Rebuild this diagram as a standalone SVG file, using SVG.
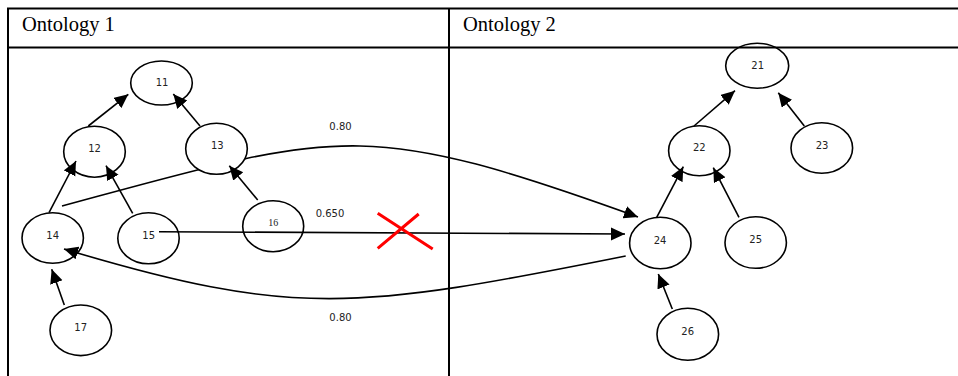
<svg xmlns="http://www.w3.org/2000/svg" width="958" height="376" viewBox="0 0 958 376">
<style>
.frame{stroke:#000;stroke-width:2;fill:none}
.head{font-family:"Liberation Serif","Times New Roman",serif;font-size:20.5px;fill:#000}
.node ellipse{fill:none;stroke:#000;stroke-width:1.6}
.node text{font-family:"DejaVu Sans",Verdana,sans-serif;font-size:10px;fill:#222;text-anchor:middle}
.node text.serif{font-family:"Liberation Serif","Times New Roman",serif;font-size:10px}
.edge{fill:none;stroke:#000;stroke-width:1.6}
.arr{marker-end:url(#ah)}
.lbl{font-family:"DejaVu Sans",Verdana,sans-serif;font-size:10px;fill:#222;text-anchor:middle}
.cross{stroke:#f00;stroke-width:3;fill:none}
</style>
<defs>
<marker id="ah" markerUnits="userSpaceOnUse" markerWidth="16" markerHeight="14" refX="14" refY="6.5" orient="auto">
<path d="M0,0 L14,6.5 L0,13 z" fill="#000"/>
</marker>
<mask id="behind13" maskUnits="userSpaceOnUse" x="0" y="0" width="958" height="376">
<rect width="958" height="376" fill="#fff"/>
<ellipse cx="216.5" cy="148.8" rx="30.8" ry="25.5" fill="#000"/>
</mask>
</defs>
<rect width="958" height="376" fill="#fff"/>
<g id="table">
<path class="frame" d="M8,376 V8.5 H958 M8,47.5 H958 M449,8 V376"/>
<text class="head" x="22" y="31">Ontology 1</text>
<text class="head" x="463" y="31">Ontology 2</text>
</g>
<g id="n11" class="node"><ellipse cx="161.5" cy="83" rx="30.8" ry="22"/><text x="162" y="85.5">11</text></g>
<g id="n12" class="node"><ellipse cx="94.5" cy="151.7" rx="30.8" ry="25.5"/><text x="94.5" y="152">12</text></g>
<g id="n13" class="node"><ellipse cx="216.5" cy="148.8" rx="30.8" ry="25.5"/><text x="217.3" y="148.7">13</text></g>
<g id="n14" class="node"><ellipse cx="52.7" cy="238" rx="30.7" ry="25.3"/><text x="52.7" y="239.3">14</text></g>
<g id="n15" class="node"><ellipse cx="148.5" cy="238.3" rx="30.7" ry="25.5"/><text x="148.7" y="239.3">15</text></g>
<g id="n16" class="node"><ellipse cx="273.2" cy="226.2" rx="30.5" ry="25.5"/><text class="serif" x="273.3" y="225.7">16</text></g>
<g id="n17" class="node"><ellipse cx="80.8" cy="330.3" rx="30.8" ry="25.3"/><text x="80.7" y="330.7">17</text></g>
<g id="n21" class="node"><ellipse cx="757.2" cy="65.8" rx="31.5" ry="22.5"/><text x="757.7" y="68.7">21</text></g>
<g id="n22" class="node"><ellipse cx="699.3" cy="150.7" rx="30.7" ry="25"/><text x="699.3" y="151">22</text></g>
<g id="n23" class="node"><ellipse cx="821.8" cy="148" rx="30.8" ry="25.3"/><text x="822" y="148.7">23</text></g>
<g id="n24" class="node"><ellipse cx="660.3" cy="243" rx="30.7" ry="25.7"/><text x="660" y="244">24</text></g>
<g id="n25" class="node"><ellipse cx="755.7" cy="242.5" rx="30.7" ry="25.8"/><text x="755.7" y="243.3">25</text></g>
<g id="n26" class="node"><ellipse cx="687.8" cy="334.3" rx="30.8" ry="26"/><text x="687.7" y="335.3">26</text></g>
<g id="connectors">
<path class="edge arr" d="M62,206 C339,131 361,117 638,217" mask="url(#behind13)"/>
<path class="edge arr" d="M625.7,256 C355.7,310 294,318 64,249"/>
<path class="edge arr" d="M88.3,126 L128.3,94.3"/>
<path class="edge arr" d="M200,126 L173.3,94"/>
<path class="edge arr" d="M49,212.7 L76,161"/>
<path class="edge arr" d="M132.7,213.3 L106,165.7"/>
<path class="edge arr" d="M257.7,200 L229.3,165.7"/>
<path class="edge arr" d="M64.3,305 L51.7,269.3"/>
<path class="edge arr" d="M694,126 L735,90.7"/>
<path class="edge arr" d="M804.3,126 L778.3,92.7"/>
<path class="edge arr" d="M656.7,217.3 L683.3,166.7"/>
<path class="edge arr" d="M739,217.3 L713.3,167.7"/>
<path class="edge arr" d="M672.3,309 L658.3,274"/>
<path class="edge arr" d="M159,231.7 L625,234"/>
<text class="lbl" x="340.5" y="129.5">0.80</text>
<text class="lbl" x="330" y="217">0.650</text>
<text class="lbl" x="340.5" y="321">0.80</text>
<path class="cross" d="M377.7,213.3 L432.7,249 M377.7,248.3 L418.7,214"/>
</g>
</svg>
